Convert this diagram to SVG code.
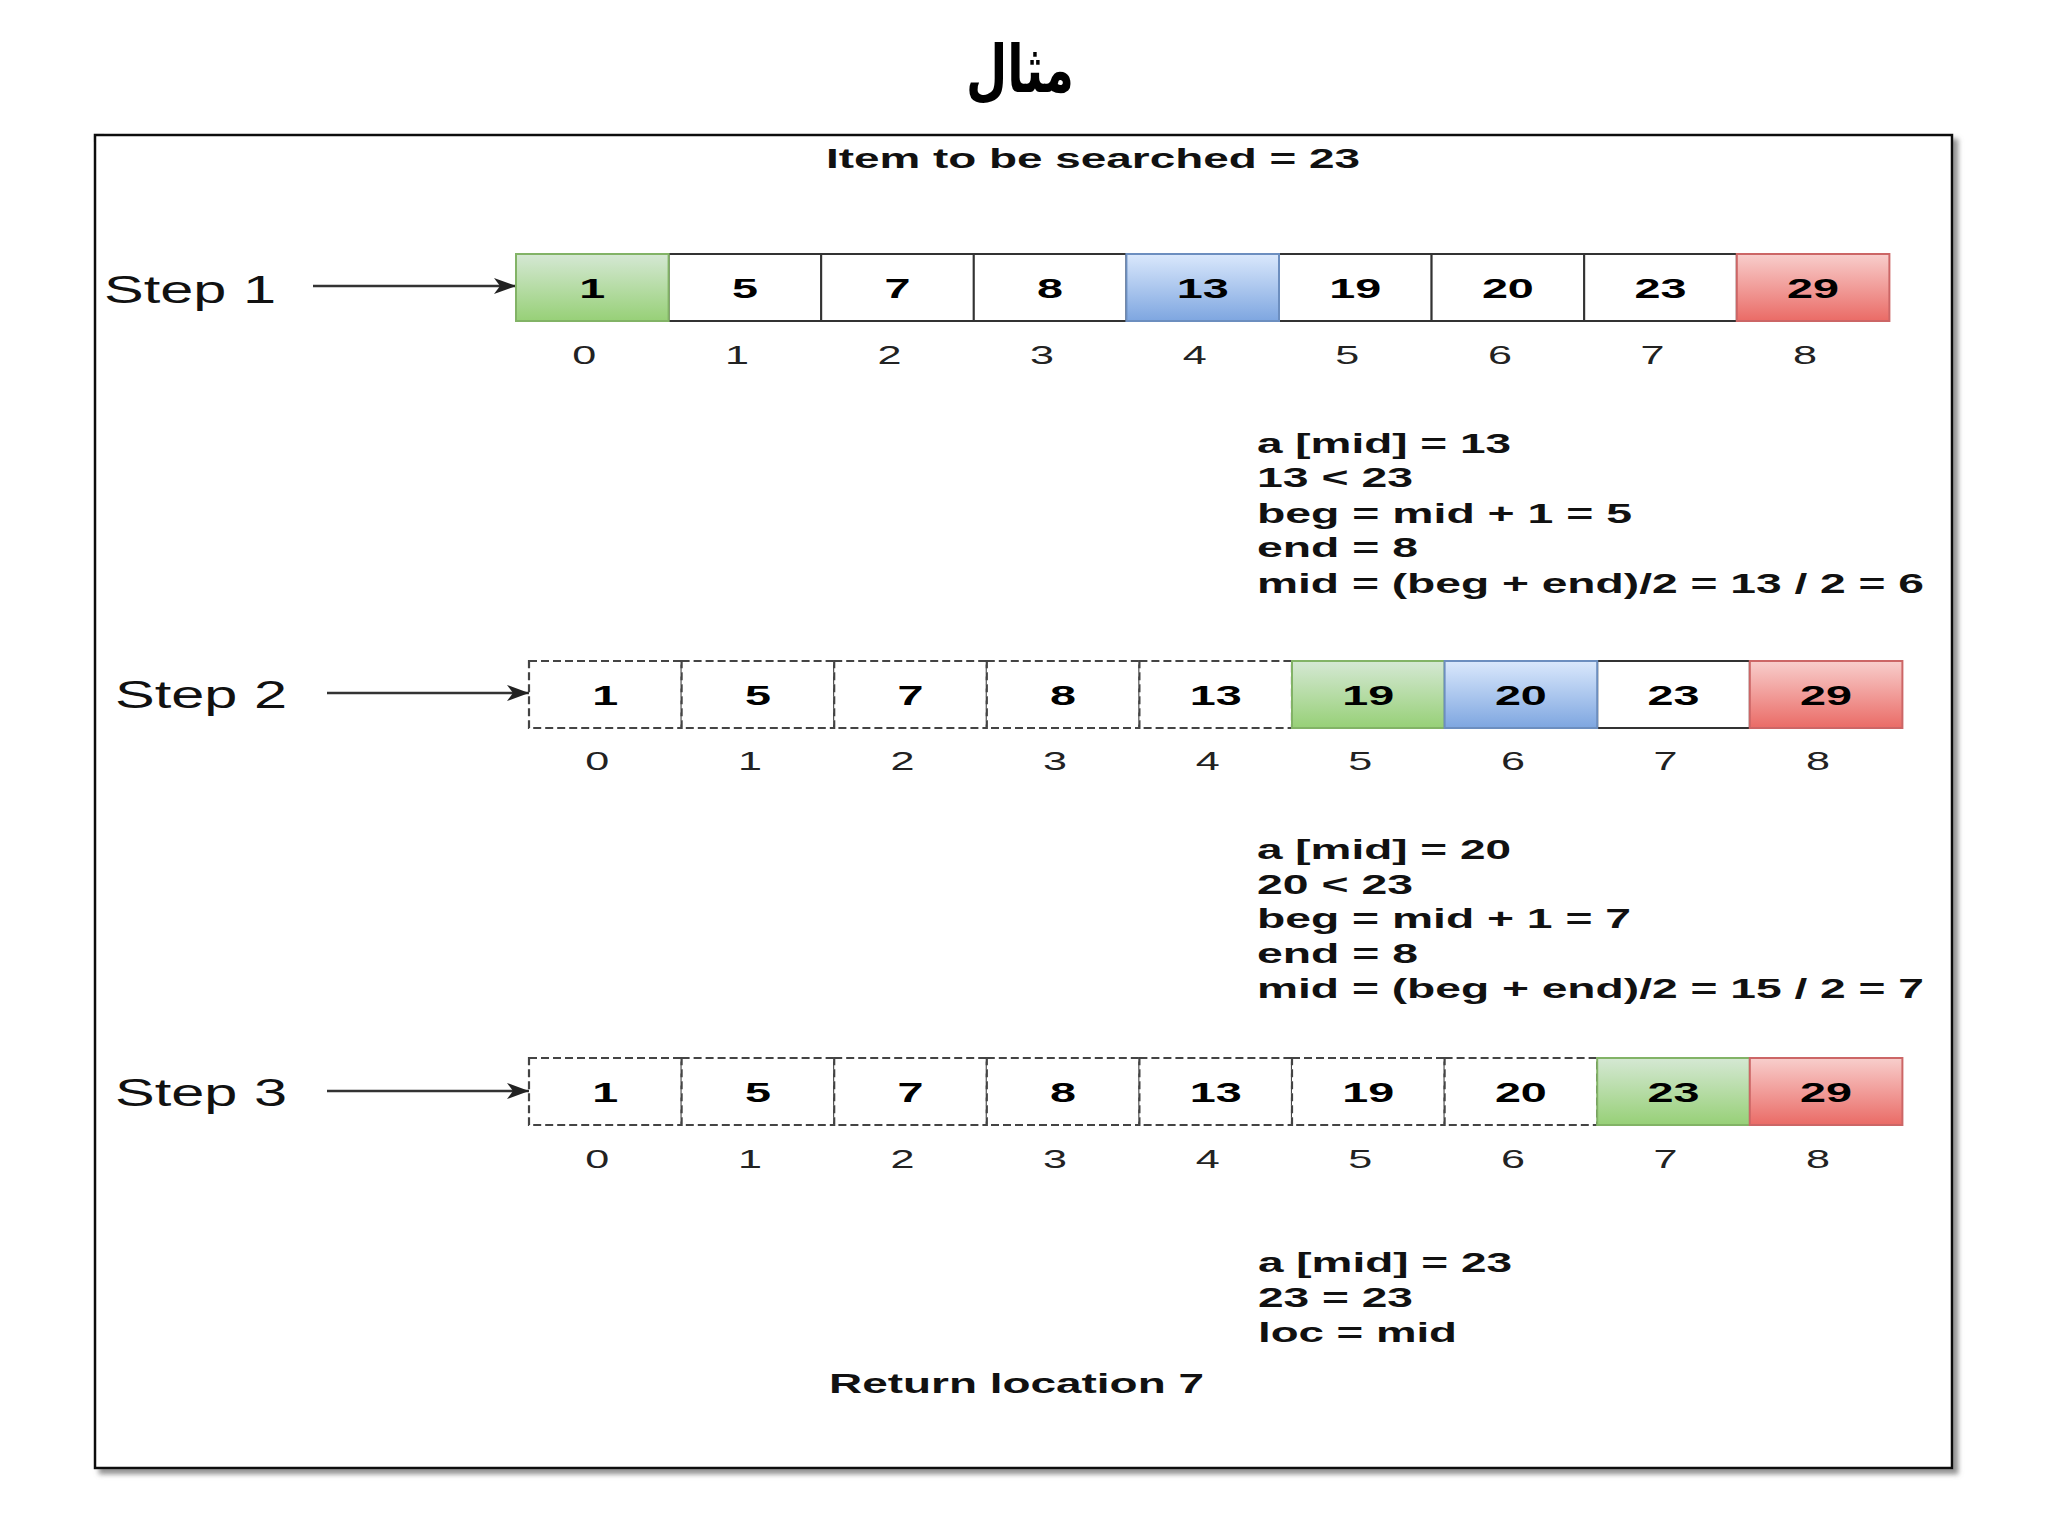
<svg xmlns="http://www.w3.org/2000/svg" width="2048" height="1536" viewBox="0 0 2048 1536">
<style>
.frame{fill:#fff;stroke:#111;stroke-width:2.5}
.cell{fill:#fff;stroke:#333;stroke-width:2}
.dash{fill:#fff;stroke:#444;stroke-width:2.2;stroke-dasharray:8 4}
.green{fill:url(#gG);stroke:#82b366;stroke-width:2}
.blue{fill:url(#gB);stroke:#6c8ebf;stroke-width:2}
.red{fill:url(#gR);stroke:#cc6666;stroke-width:2}
.val{font-family:"Liberation Sans",Arial,sans-serif;font-weight:bold;font-size:27px;text-anchor:middle;fill:#000}
.idx{font-family:"Liberation Sans",Arial,sans-serif;font-size:26px;text-anchor:middle;fill:#222}
.step{font-family:"Liberation Sans",Arial,sans-serif;font-size:38px;fill:#111}
.note{font-family:"Liberation Sans",Arial,sans-serif;font-weight:bold;font-size:27px;fill:#111}
.title{font-family:"DejaVu Sans",sans-serif;font-weight:bold;font-size:66px;text-anchor:middle;fill:#000}
.conn{stroke:#333;stroke-width:2.5;fill:none;marker-end:url(#arr)}
</style>
<defs>
<linearGradient id="gG" x1="0" y1="0" x2="0" y2="1"><stop offset="0" stop-color="#d5e8d4"/><stop offset="1" stop-color="#97d077"/></linearGradient>
<linearGradient id="gB" x1="0" y1="0" x2="0" y2="1"><stop offset="0" stop-color="#dae8fc"/><stop offset="1" stop-color="#7ea6e0"/></linearGradient>
<linearGradient id="gR" x1="0" y1="0" x2="0" y2="1"><stop offset="0" stop-color="#f8cecc"/><stop offset="1" stop-color="#ea6b66"/></linearGradient>
<filter id="shadow" x="-5%" y="-5%" width="112%" height="112%"><feDropShadow dx="5" dy="5" stdDeviation="2.5" flood-color="#777" flood-opacity="0.8"/></filter>
<marker id="arr" markerUnits="userSpaceOnUse" markerWidth="24" markerHeight="16" refX="22" refY="8" orient="auto"><path d="M0,0 L22,8 L0,16 L6,8 Z" fill="#222"/></marker>
</defs>

<g id="title"><text class="title" x="1020" y="92" textLength="108" lengthAdjust="spacingAndGlyphs">مثال</text></g>

<g id="frame"><rect class="frame" x="95" y="135" width="1857" height="1333" filter="url(#shadow)"/></g>

<g id="item-label"><text class="note" x="826" y="168" textLength="534" lengthAdjust="spacingAndGlyphs">Item to be searched = 23</text></g>

<g id="step1-label"><text class="step" x="104" y="303" textLength="172" lengthAdjust="spacingAndGlyphs">Step 1</text></g>
<g id="step2-label"><text class="step" x="115" y="708" textLength="172" lengthAdjust="spacingAndGlyphs">Step 2</text></g>
<g id="step3-label"><text class="step" x="115" y="1106" textLength="172" lengthAdjust="spacingAndGlyphs">Step 3</text></g>

<g id="connectors">
<line class="conn" x1="313" y1="286" x2="516" y2="286"/>
<line class="conn" x1="327" y1="693" x2="529" y2="693"/>
<line class="conn" x1="327" y1="1091" x2="529" y2="1091"/>
</g>

<!-- Step 1 array -->
<g id="s1-c1"><rect class="cell" x="668.6" y="254" width="152.6" height="67"/><text class="val" x="744.9" y="297.5" textLength="26" lengthAdjust="spacingAndGlyphs">5</text><text class="idx" x="736.9" y="364" textLength="24" lengthAdjust="spacingAndGlyphs">1</text></g>
<g id="s1-c2"><rect class="cell" x="821.2" y="254" width="152.6" height="67"/><text class="val" x="897.5" y="297.5" textLength="26" lengthAdjust="spacingAndGlyphs">7</text><text class="idx" x="889.5" y="364" textLength="24" lengthAdjust="spacingAndGlyphs">2</text></g>
<g id="s1-c3"><rect class="cell" x="973.8" y="254" width="152.6" height="67"/><text class="val" x="1050.1" y="297.5" textLength="26" lengthAdjust="spacingAndGlyphs">8</text><text class="idx" x="1042.1" y="364" textLength="24" lengthAdjust="spacingAndGlyphs">3</text></g>
<g id="s1-c5"><rect class="cell" x="1279" y="254" width="152.6" height="67"/><text class="val" x="1355.3" y="297.5" textLength="52" lengthAdjust="spacingAndGlyphs">19</text><text class="idx" x="1347.3" y="364" textLength="24" lengthAdjust="spacingAndGlyphs">5</text></g>
<g id="s1-c6"><rect class="cell" x="1431.6" y="254" width="152.6" height="67"/><text class="val" x="1507.9" y="297.5" textLength="52" lengthAdjust="spacingAndGlyphs">20</text><text class="idx" x="1499.9" y="364" textLength="24" lengthAdjust="spacingAndGlyphs">6</text></g>
<g id="s1-c7"><rect class="cell" x="1584.2" y="254" width="152.6" height="67"/><text class="val" x="1660.5" y="297.5" textLength="52" lengthAdjust="spacingAndGlyphs">23</text><text class="idx" x="1652.5" y="364" textLength="24" lengthAdjust="spacingAndGlyphs">7</text></g>
<g id="s1-c0"><rect class="green" x="516" y="254" width="152.6" height="67"/><text class="val" x="592.3" y="297.5" textLength="26" lengthAdjust="spacingAndGlyphs">1</text><text class="idx" x="584.3" y="364" textLength="24" lengthAdjust="spacingAndGlyphs">0</text></g>
<g id="s1-c4"><rect class="blue" x="1126.4" y="254" width="152.6" height="67"/><text class="val" x="1202.7" y="297.5" textLength="52" lengthAdjust="spacingAndGlyphs">13</text><text class="idx" x="1194.7" y="364" textLength="24" lengthAdjust="spacingAndGlyphs">4</text></g>
<g id="s1-c8"><rect class="red" x="1736.8" y="254" width="152.6" height="67"/><text class="val" x="1813.1" y="297.5" textLength="52" lengthAdjust="spacingAndGlyphs">29</text><text class="idx" x="1805.1" y="364" textLength="24" lengthAdjust="spacingAndGlyphs">8</text></g>

<g id="note1">
<text class="note" x="1257" y="453" textLength="254" lengthAdjust="spacingAndGlyphs">a [mid] = 13</text>
<text class="note" x="1257" y="487" textLength="156" lengthAdjust="spacingAndGlyphs">13 &lt; 23</text>
<text class="note" x="1257" y="523" textLength="375" lengthAdjust="spacingAndGlyphs">beg = mid + 1 = 5</text>
<text class="note" x="1257" y="557" textLength="161" lengthAdjust="spacingAndGlyphs">end = 8</text>
<text class="note" x="1257" y="593" textLength="667" lengthAdjust="spacingAndGlyphs">mid = (beg + end)/2 = 13 / 2 = 6</text>
</g>

<!-- Step 2 array -->
<g id="s2-c0"><rect class="dash" x="529" y="661" width="152.6" height="67"/><text class="val" x="605.3" y="705" textLength="26" lengthAdjust="spacingAndGlyphs">1</text><text class="idx" x="597.3" y="770" textLength="24" lengthAdjust="spacingAndGlyphs">0</text></g>
<g id="s2-c1"><rect class="dash" x="681.6" y="661" width="152.6" height="67"/><text class="val" x="757.9" y="705" textLength="26" lengthAdjust="spacingAndGlyphs">5</text><text class="idx" x="749.9" y="770" textLength="24" lengthAdjust="spacingAndGlyphs">1</text></g>
<g id="s2-c2"><rect class="dash" x="834.2" y="661" width="152.6" height="67"/><text class="val" x="910.5" y="705" textLength="26" lengthAdjust="spacingAndGlyphs">7</text><text class="idx" x="902.5" y="770" textLength="24" lengthAdjust="spacingAndGlyphs">2</text></g>
<g id="s2-c3"><rect class="dash" x="986.8" y="661" width="152.6" height="67"/><text class="val" x="1063.1" y="705" textLength="26" lengthAdjust="spacingAndGlyphs">8</text><text class="idx" x="1055.1" y="770" textLength="24" lengthAdjust="spacingAndGlyphs">3</text></g>
<g id="s2-c4"><rect class="dash" x="1139.4" y="661" width="152.6" height="67"/><text class="val" x="1215.7" y="705" textLength="52" lengthAdjust="spacingAndGlyphs">13</text><text class="idx" x="1207.7" y="770" textLength="24" lengthAdjust="spacingAndGlyphs">4</text></g>
<g id="s2-c7"><rect class="cell" x="1597.2" y="661" width="152.6" height="67"/><text class="val" x="1673.5" y="705" textLength="52" lengthAdjust="spacingAndGlyphs">23</text><text class="idx" x="1665.5" y="770" textLength="24" lengthAdjust="spacingAndGlyphs">7</text></g>
<g id="s2-c5"><rect class="green" x="1292" y="661" width="152.6" height="67"/><text class="val" x="1368.3" y="705" textLength="52" lengthAdjust="spacingAndGlyphs">19</text><text class="idx" x="1360.3" y="770" textLength="24" lengthAdjust="spacingAndGlyphs">5</text></g>
<g id="s2-c6"><rect class="blue" x="1444.6" y="661" width="152.6" height="67"/><text class="val" x="1520.9" y="705" textLength="52" lengthAdjust="spacingAndGlyphs">20</text><text class="idx" x="1512.9" y="770" textLength="24" lengthAdjust="spacingAndGlyphs">6</text></g>
<g id="s2-c8"><rect class="red" x="1749.8" y="661" width="152.6" height="67"/><text class="val" x="1826.1" y="705" textLength="52" lengthAdjust="spacingAndGlyphs">29</text><text class="idx" x="1818.1" y="770" textLength="24" lengthAdjust="spacingAndGlyphs">8</text></g>

<g id="note2">
<text class="note" x="1257" y="859" textLength="254" lengthAdjust="spacingAndGlyphs">a [mid] = 20</text>
<text class="note" x="1257" y="894" textLength="156" lengthAdjust="spacingAndGlyphs">20 &lt; 23</text>
<text class="note" x="1257" y="928" textLength="374" lengthAdjust="spacingAndGlyphs">beg = mid + 1 = 7</text>
<text class="note" x="1257" y="963" textLength="161" lengthAdjust="spacingAndGlyphs">end = 8</text>
<text class="note" x="1257" y="998" textLength="667" lengthAdjust="spacingAndGlyphs">mid = (beg + end)/2 = 15 / 2 = 7</text>
</g>

<!-- Step 3 array -->
<g id="s3-c0"><rect class="dash" x="529" y="1058" width="152.6" height="67"/><text class="val" x="605.3" y="1102" textLength="26" lengthAdjust="spacingAndGlyphs">1</text><text class="idx" x="597.3" y="1168" textLength="24" lengthAdjust="spacingAndGlyphs">0</text></g>
<g id="s3-c1"><rect class="dash" x="681.6" y="1058" width="152.6" height="67"/><text class="val" x="757.9" y="1102" textLength="26" lengthAdjust="spacingAndGlyphs">5</text><text class="idx" x="749.9" y="1168" textLength="24" lengthAdjust="spacingAndGlyphs">1</text></g>
<g id="s3-c2"><rect class="dash" x="834.2" y="1058" width="152.6" height="67"/><text class="val" x="910.5" y="1102" textLength="26" lengthAdjust="spacingAndGlyphs">7</text><text class="idx" x="902.5" y="1168" textLength="24" lengthAdjust="spacingAndGlyphs">2</text></g>
<g id="s3-c3"><rect class="dash" x="986.8" y="1058" width="152.6" height="67"/><text class="val" x="1063.1" y="1102" textLength="26" lengthAdjust="spacingAndGlyphs">8</text><text class="idx" x="1055.1" y="1168" textLength="24" lengthAdjust="spacingAndGlyphs">3</text></g>
<g id="s3-c4"><rect class="dash" x="1139.4" y="1058" width="152.6" height="67"/><text class="val" x="1215.7" y="1102" textLength="52" lengthAdjust="spacingAndGlyphs">13</text><text class="idx" x="1207.7" y="1168" textLength="24" lengthAdjust="spacingAndGlyphs">4</text></g>
<g id="s3-c5"><rect class="dash" x="1292" y="1058" width="152.6" height="67"/><text class="val" x="1368.3" y="1102" textLength="52" lengthAdjust="spacingAndGlyphs">19</text><text class="idx" x="1360.3" y="1168" textLength="24" lengthAdjust="spacingAndGlyphs">5</text></g>
<g id="s3-c6"><rect class="dash" x="1444.6" y="1058" width="152.6" height="67"/><text class="val" x="1520.9" y="1102" textLength="52" lengthAdjust="spacingAndGlyphs">20</text><text class="idx" x="1512.9" y="1168" textLength="24" lengthAdjust="spacingAndGlyphs">6</text></g>
<g id="s3-c7"><rect class="green" x="1597.2" y="1058" width="152.6" height="67"/><text class="val" x="1673.5" y="1102" textLength="52" lengthAdjust="spacingAndGlyphs">23</text><text class="idx" x="1665.5" y="1168" textLength="24" lengthAdjust="spacingAndGlyphs">7</text></g>
<g id="s3-c8"><rect class="red" x="1749.8" y="1058" width="152.6" height="67"/><text class="val" x="1826.1" y="1102" textLength="52" lengthAdjust="spacingAndGlyphs">29</text><text class="idx" x="1818.1" y="1168" textLength="24" lengthAdjust="spacingAndGlyphs">8</text></g>

<g id="note3">
<text class="note" x="1258" y="1272" textLength="254" lengthAdjust="spacingAndGlyphs">a [mid] = 23</text>
<text class="note" x="1258" y="1307" textLength="155" lengthAdjust="spacingAndGlyphs">23 = 23</text>
<text class="note" x="1258" y="1342" textLength="199" lengthAdjust="spacingAndGlyphs">loc = mid</text>
</g>

<g id="result"><text class="note" x="829" y="1393" textLength="375" lengthAdjust="spacingAndGlyphs">Return location 7</text></g>
</svg>
